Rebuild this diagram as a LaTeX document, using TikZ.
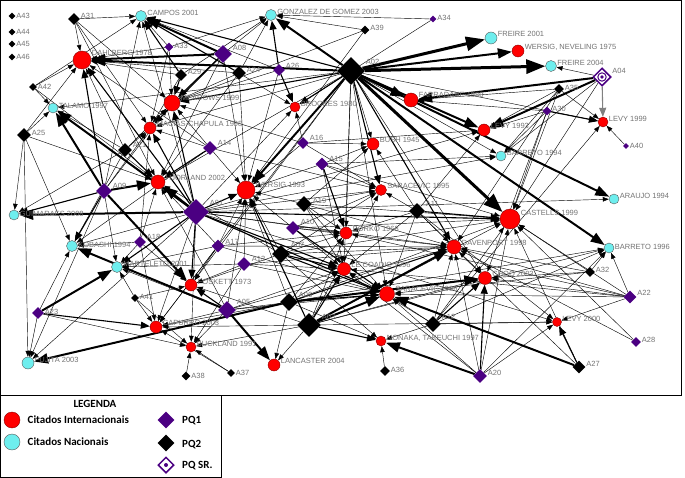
\documentclass[tikz,border=0pt]{standalone}
\usepackage{fontspec}
\setmainfont{Liberation Sans}
\newfontfamily\legfont{Carlito}
\usetikzlibrary{shapes.geometric,arrows.meta,backgrounds}

\definecolor{pqone}{RGB}{75,0,130}
\definecolor{natcyan}{RGB}{110,238,238}
\definecolor{lblgray}{RGB}{115,115,115}

\tikzset{
    intl/.style={circle, draw=red!55!black, line width=0.4pt, fill=red, inner sep=0pt, minimum size=#1},
    nacl/.style={circle, draw=gray!70!black, line width=0.4pt, fill=natcyan, inner sep=0pt, minimum size=#1},
    pqa/.style={diamond, fill=pqone, inner sep=0pt, minimum size=#1},
    pqb/.style={diamond, fill=black, inner sep=0pt, minimum size=#1},
    pqsr/.style={diamond, draw=pqone, line width=1.5pt, fill=white, inner sep=0pt, minimum size=#1},
    lbl/.style={font=\fontsize{7.5}{9}\selectfont, text=lblgray, anchor=west, inner sep=0.5pt, yshift=#1},
    lbl/.default=4pt,
    legtxt/.style={font=\legfont\bfseries\fontsize{11}{13}\selectfont, inner sep=0pt},
    thn/.style={line width=0.42pt, -{Triangle[length=6pt,width=4.5pt]}},
    med/.style={line width=1.1pt, -{Triangle[length=9pt,width=7pt]}},
    thk/.style={line width=2pt, -{Triangle[length=14pt,width=10pt]}},
    hvy/.style={line width=3pt, -{Triangle[length=19pt,width=14pt]}}
}

\begin{document}
\begin{tikzpicture}[x=1pt, y=-1pt]
    \useasboundingbox (0,0) rectangle (685,478);

    % citados internacionais
    \node[intl=18pt, label={[lbl=7pt]east:DAHLBERG 1978}] (dahlberg) at (82,60) {};
    \node[intl=16pt, label={[lbl=5pt]east:MEADOWS 1999}] (meadows) at (172,103) {};
    \node[intl=12pt, label={[lbl]east:MACIAS-CHAPULA 1998}] (macias) at (150,128) {};
    \node[intl=14pt, label={[lbl]east:HJORLAND 2002}] (hjorland) at (158,182) {};
    \node[intl=18pt, label={[lbl=5pt]east:WERSIG 1993}] (wersig93) at (246,190) {};
    \node[intl=10pt, label={[lbl=3pt]east:BROOKES 1980}] (brookes) at (295,107) {};
    \node[intl=14pt, label={[lbl=5pt]east:FARRADANE 1980}] (farradane) at (411,100) {};
    \node[intl=12pt, label={[lbl]east:{WERSIG, NEVELING 1975}}] (wersignev) at (518,51) {};
    \node[intl=12pt, label={[lbl]east:LEVY 1993}] (levy93) at (484,130) {};
    \node[intl=12pt, label={[lbl]east:BUSH 1945}] (bush) at (373,144) {};
    \node[intl=11pt, label={[lbl]east:SARACEVIC 1995}] (sarac95) at (381,190) {};
    \node[intl=10pt, label={[lbl=3pt]east:LEVY 1999}] (levy99) at (603,122) {};
    \node[intl=20pt, label={[lbl=6pt]east:CASTELLS 1999}] (castells) at (510,219) {};
    \node[intl=14pt, label={[lbl]east:DAVENPORT 1998}] (davenport) at (454,247) {};
    \node[intl=12pt, label={[lbl]east:BORKO 1968}] (borko) at (346,233) {};
    \node[intl=13pt, label={[lbl]east:LE COADIC 1996}] (lecoadic) at (344,269) {};
    \node[intl=15pt, label={[lbl=5pt]east:SARACEVIC 1996}] (sarac96) at (387,294) {};
    \node[intl=13pt, label={[lbl]east:CHOO 2003}] (choo) at (485,278) {};
    \node[intl=9pt, label={[lbl=3pt]east:LEVY 2000}] (levy00) at (557,322) {};
    \node[intl=10pt, label={[lbl=3pt]east:{NONAKA, TAKEUCHI 1997}}] (nonaka) at (381,341) {};
    \node[intl=12pt, label={[lbl]east:LANCASTER 2004}] (lancaster) at (274,365) {};
    \node[intl=10pt, label={[lbl=3pt]east:BUCKLAND 1991}] (buckland) at (191,347) {};
    \node[intl=12pt, label={[lbl]east:CAPURRO 2003}] (capurro) at (156,327) {};
    \node[intl=12pt, label={[lbl=3pt]east:FOSKETT 1973}] (foskett) at (191,285) {};

    % citados nacionais
    \node[nacl=11pt, label={[lbl=3pt]east:CAMPOS 2001}] (campos) at (141,16) {};
    \node[nacl=11pt, label={[lbl=3pt]east:GONZALEZ DE GOMEZ 2003}] (gonzalez) at (271,15) {};
    \node[nacl=12pt, label={[lbl]east:FREIRE 2001}] (freire01) at (491,38) {};
    \node[nacl=11pt, label={[lbl=3pt]east:FREIRE 2004}] (freire04) at (551,66) {};
    \node[nacl=10pt, label={[lbl=2pt]east:TALAMO 1997}] (talamo) at (53,108) {};
    \node[nacl=10pt, label={[lbl=1pt]east:GUIMARAES 2008}] (guimaraes) at (14,215) {};
    \node[nacl=11pt, label={[lbl=1pt]east:KOBASHI 1994}] (kobashi) at (72,246) {};
    \node[nacl=11pt, label={[lbl=3pt]east:MARTELETO 2001}] (marteleto) at (117,267) {};
    \node[nacl=12pt, label={[lbl=3pt]east:FUJITA 2003}] (fujita) at (28,363) {};
    \node[nacl=10pt, label={[lbl=3pt]east:BARRETO 1994}] (barreto94) at (501,156) {};
    \node[nacl=10pt, label={[lbl=3pt]east:ARAUJO 1994}] (araujo) at (614,199) {};
    \node[nacl=10pt, label={[lbl=1pt]east:BARRETO 1996}] (barreto96) at (609,248) {};

    % PQ1
    \node[pqa=9pt, label={[lbl=1pt]east:A33}] (a33) at (169,47) {};
    \node[pqa=18pt, label={[lbl=6pt]east:A08}] (a08) at (223,54) {};
    \node[pqa=12pt, label={[lbl]east:A26}] (a26) at (279,70) {};
    \node[pqa=7pt, label={[lbl=1pt]east:A34}] (a34) at (433,19) {};
    \node[pqa=9pt, label={[lbl=2pt]east:A30}] (a30) at (547,111) {};
    \node[pqa=6pt, label={[lbl=0pt]east:A40}] (a40) at (626,146) {};
    \node[pqa=14pt, label={[lbl=5pt]east:A14}] (a14) at (210,148) {};
    \node[pqa=12pt, label={[lbl=5pt]east:A16}] (a16) at (303,143) {};
    \node[pqa=13pt, label={[lbl=5pt]east:A15}] (a15) at (322,164) {};
    \node[pqa=16pt, label={[lbl=5pt]east:A09}] (a09) at (104,191) {};
    \node[pqa=26pt, label={[lbl=9pt]east:A01}] (a01) at (196,212) {};
    \node[pqa=12pt, label={[lbl=5pt]east:A18}] (a18) at (140,242) {};
    \node[pqa=13pt, label={[lbl]east:A17}] (a17) at (218,246) {};
    \node[pqa=14pt, label={[lbl=6pt]east:A10}] (a10) at (293,228) {};
    \node[pqa=14pt, label={[lbl=5pt]east:A13}] (a13) at (244,264) {};
    \node[pqa=18pt, label={[lbl=8pt]east:A05}] (a05) at (227,310) {};
    \node[pqa=12pt, label={[lbl=1pt]east:A23}] (a23) at (38,313) {};
    \node[pqa=13pt, label={[lbl]east:A22}] (a22) at (630,297) {};
    \node[pqa=10pt, label={[lbl=2pt]east:A28}] (a28) at (636,342) {};
    \node[pqa=14pt, label={[lbl=3pt]east:A20}] (a20) at (480,376) {};

    % PQ2
    \node[pqb=7pt, label={[lbl=0pt]east:A43}] (a43) at (12,16) {};
    \node[pqb=7pt, label={[lbl=0pt]east:A44}] (a44) at (12,32) {};
    \node[pqb=7pt, label={[lbl=0pt]east:A45}] (a45) at (12,44) {};
    \node[pqb=7pt, label={[lbl=0pt]east:A46}] (a46) at (12,57) {};
    \node[pqb=12pt, label={[lbl=3pt]east:A31}] (a31) at (74,19) {};
    \node[pqb=8pt, label={[lbl=0pt]east:A42}] (a42) at (33,87) {};
    \node[pqb=12pt, label={[lbl=3pt]east:A29}] (a29) at (181,75) {};
    \node[pqb=14pt, label={[lbl=3pt]east:A24}] (a24) at (239,73) {};
    \node[pqb=9pt, label={[lbl=2pt]east:A39}] (a39) at (365,30) {};
    \node[pqb=28pt, label={[lbl=9pt]east:A02}] (a02) at (351,71) {};
    \node[pqb=10pt, label={[lbl=1pt]east:A35}] (a35) at (559,89) {};
    \node[pqb=14pt, label={[lbl=2pt]east:A25}] (a25) at (24,135) {};
    \node[pqb=14pt, label={[lbl=5pt]east:A21}] (a21) at (125,150) {};
    \node[pqb=16pt, label={[lbl=3pt]east:A19}] (a19) at (304,204) {};
    \node[pqb=16pt, label={[lbl=7pt]east:A11}] (a11) at (417,211) {};
    \node[pqb=18pt, label={[lbl=9pt]east:A07}] (a07) at (281,254) {};
    \node[pqb=18pt, label={[lbl=7pt]east:A06}] (a06) at (289,302) {};
    \node[pqb=24pt, label={[lbl=8pt]east:A03}] (a03) at (309,325) {};
    \node[pqb=16pt, label={[lbl=7pt]east:A12}] (a12) at (433,324) {};
    \node[pqb=8pt, label={[lbl=1pt]east:A41}] (a41) at (135,298) {};
    \node[pqb=9pt, label={[lbl=0pt]east:A38}] (a38) at (186,376) {};
    \node[pqb=8pt, label={[lbl=0pt]east:A37}] (a37) at (231,373) {};
    \node[pqb=10pt, label={[lbl=1pt]east:A36}] (a36) at (385,371) {};
    \node[pqb=13pt, label={[lbl=3pt]east:A27}] (a27) at (579,367) {};
    \node[pqb=10pt, label={[lbl=2pt]east:A32}] (a32) at (590,272) {};

    % PQ SR
    \node[pqsr=18pt, label={[lbl=6pt]east:A04}] (a04) at (602,77) {};
    \draw[pqone, line width=1pt] (a04) circle (4.2pt);
    \fill[pqone] (a04) circle (1.8pt);

    \begin{scope}[on background layer]
        \foreach \s/\t in {a02/freire01, a02/freire04, a02/castells} {
            \draw[hvy] (\s) -- (\t);
        }
        \foreach \s/\t in {a02/gonzalez, a02/wersignev, a02/farradane, a02/levy93, a02/araujo,
            a02/barreto96, a02/wersig93, a02/dahlberg, a01/hjorland, a01/guimaraes, a01/talamo,
            a03/sarac96, a03/davenport, a06/fujita, a06/choo, a05/lancaster, a05/kobashi,
            a09/hjorland, a09/talamo, a09/foskett, a08/dahlberg, a08/campos, a23/marteleto,
            a20/nonaka, a27/sarac96, a04/farradane, a04/levy93} {
            \draw[thk] (\s) -- (\t);
        }
        \foreach \s/\t in {a02/meadows, a02/brookes, a02/campos, a02/sarac95, a02/davenport,
            a01/wersig93, a01/dahlberg, a01/meadows, a01/macias, a01/marteleto, a01/foskett,
            a01/lecoadic, a01/sarac96, a01/castells, a03/nonaka, a03/lecoadic, a03/wersig93,
            a06/sarac96, a06/davenport, a07/lecoadic, a07/sarac96, a05/foskett, a09/guimaraes,
            a09/kobashi, a09/dahlberg, a21/hjorland, a08/meadows, a08/macias, a29/meadows,
            a29/campos, a24/campos, a26/gonzalez, a26/brookes, a14/hjorland, a15/borko,
            a10/sarac96, a11/castells, a12/choo, a23/capurro, a20/choo, a27/levy00, a30/levy99} {
            \draw[med] (\s) -- (\t);
        }
        \draw[med, gray] (a04) -- (levy99);
        \foreach \s/\t in {a02/bush, a02/barreto94, a02/levy99, a02/borko, a02/hjorland,
            a02/sarac96, a02/choo, a02/talamo, a02/macias, a02/lecoadic, a02/foskett, a02/capurro,
            a01/campos, a01/kobashi, a01/capurro, a01/buckland, a01/davenport, a01/borko,
            a01/sarac95, a01/barreto94, a01/araujo, a01/levy93, a01/brookes, a01/fujita, a01/levy00,
            a03/lancaster, a03/choo, a03/capurro, a03/borko, a03/castells, a03/sarac95,
            a03/foskett, a03/levy00, a03/buckland, a03/barreto96,
            a06/lecoadic, a06/lancaster, a06/nonaka, a06/borko, a06/wersig93, a06/capurro, a06/castells,
            a06/barreto96,
            a07/borko, a07/wersig93, a07/davenport, a07/nonaka, a07/hjorland, a07/sarac95, a07/foskett,
            a07/castells,
            a05/buckland, a05/capurro, a05/marteleto, a05/lecoadic, a05/sarac96, a05/hjorland,
            a05/wersig93, a05/davenport, a05/choo,
            a09/marteleto, a09/campos, a09/meadows, a09/macias, a09/fujita,
            a25/talamo, a25/guimaraes, a25/hjorland, a25/kobashi, a25/fujita, a25/dahlberg,
            a21/meadows, a21/macias, a21/guimaraes, a21/talamo, a21/dahlberg, a21/kobashi,
            a42/dahlberg, a42/campos, a42/hjorland, a42/talamo,
            a31/dahlberg, a31/meadows, a31/macias, a31/campos, a31/hjorland,
            a33/campos, a33/dahlberg, a33/meadows, a33/gonzalez, a33/macias,
            a08/gonzalez, a08/hjorland, a08/wersig93,
            a29/dahlberg, a29/gonzalez, a29/macias,
            a24/gonzalez, a24/meadows, a24/dahlberg, a24/wersig93, a24/brookes, a24/hjorland,
            a26/meadows, a26/campos, a26/wersig93,
            a39/gonzalez, a39/meadows, a39/wersig93, a34/gonzalez, a34/brookes,
            a14/macias, a14/meadows, a14/wersig93, a14/kobashi, a14/sarac95, a14/dahlberg,
            a16/brookes, a16/wersig93, a16/bush, a16/sarac95, a16/meadows, a16/levy93,
            a15/wersig93, a15/sarac95, a15/bush, a15/lecoadic, a15/castells, a15/barreto94,
            a19/wersig93, a19/borko, a19/lecoadic, a19/sarac95, a19/sarac96, a19/davenport, a19/bush,
            a19/castells,
            a10/wersig93, a10/borko, a10/lecoadic, a10/davenport, a10/sarac95, a10/castells,
            a11/sarac95, a11/davenport, a11/lecoadic, a11/borko, a11/sarac96, a11/choo,
            a11/levy00, a11/levy93, a11/bush,
            a12/sarac96, a12/nonaka, a12/davenport, a12/levy00, a12/lecoadic, a12/levy99, a12/castells,
            a12/barreto96,
            a13/foskett, a13/lecoadic, a13/wersig93, a13/buckland, a13/marteleto, a13/sarac96,
            a13/davenport,
            a17/hjorland, a17/wersig93, a17/foskett, a17/capurro, a17/marteleto, a17/sarac96, a17/borko,
            a17/davenport,
            a18/kobashi, a18/marteleto, a18/hjorland, a18/capurro, a18/foskett, a18/macias,
            a41/marteleto, a41/capurro, a41/foskett, a41/buckland, a23/kobashi, a23/fujita, a23/buckland,
            a38/buckland, a37/buckland, a37/capurro, a36/nonaka,
            a20/levy00, a20/barreto96, a20/davenport, a20/sarac96, a20/castells, a20/lecoadic,
            a27/castells, a27/davenport,
            a22/castells, a22/davenport, a22/choo, a22/levy00, a22/barreto96, a22/sarac96,
            a22/lecoadic, a22/borko,
            a28/castells, a28/davenport, a32/barreto96, a32/castells, a32/davenport, a32/choo,
            a32/sarac96,
            a35/farradane, a35/levy93, a35/barreto94, a35/levy99, a35/castells, a35/davenport,
            a30/levy93, a30/barreto94, a30/farradane, a30/castells, a30/choo,
            a04/freire04, a04/castells, a04/barreto94, a40/levy99} {
            \draw[thn] (\s) -- (\t);
        }
    \end{scope}

    \draw[line width=1pt] (0.5,0.5) rectangle (681.5,395.5);
    \draw[line width=1pt] (0.5,395.5) rectangle (221,477.5);
    \node[legtxt] (legtitle) at (95,404) {LEGENDA};
    \node[intl=16pt] (kint) at (12,420) {};
    \node[legtxt, anchor=west] (kintt) at (27.5,420) {Citados Internacionais};
    \node[nacl=16pt] (knat) at (12,442) {};
    \node[legtxt, anchor=west] (knatt) at (27.5,442) {Citados Nacionais};
    \node[pqa=17pt] (kpqa) at (166,420) {};
    \node[legtxt, anchor=west] (kpqat) at (182,421) {PQ1};
    \node[pqb=17pt] (kpqb) at (166,443) {};
    \node[legtxt, anchor=west] (kpqbt) at (182,445) {PQ2};
    \node[pqsr=16pt] (kpqs) at (166,465) {};
    \fill[pqone] (kpqs) circle (2pt);
    \node[legtxt, anchor=west] (kpqst) at (182,466) {PQ SR.};
\end{tikzpicture}
\end{document}
